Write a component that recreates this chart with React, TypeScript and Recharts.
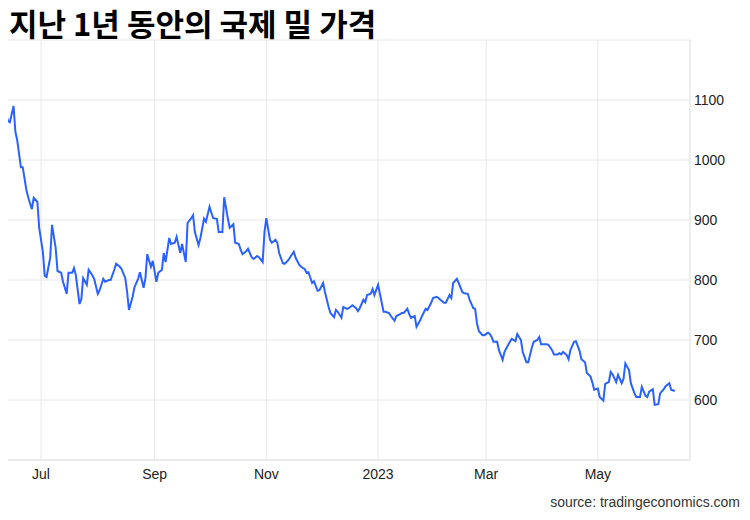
import { LineChart, Line, XAxis, YAxis, CartesianGrid } from 'recharts';

// days counted from 2022-07-01 (trading days)
const days = [
  -22, -20, -18, -17, -15, -14, -13, -11, -10, -8, -7, -5, -4, -2, -1, 1, 2, 3, 5, 6, 8, 9, 11, 12, 14, 15, 17, 18, 19, 21,
  22, 23, 25, 26, 28, 29, 31, 32, 34, 35, 37, 38, 40, 41, 43, 44, 46, 47, 48, 50, 51, 53, 54, 56, 57, 58, 60, 61, 63, 64,
  66, 67, 68, 70, 71, 73, 74, 76, 77, 79, 80, 82, 83, 84, 86, 87, 89, 90, 92, 93, 94, 96, 97, 99, 100, 102, 103, 105, 106, 108,
  109, 110, 112, 113, 115, 116, 118, 119, 121, 122, 123, 125, 126, 128, 129, 130, 132, 133, 135, 136, 138, 139, 141, 142, 144, 145, 146, 148, 149, 151,
  152, 154, 155, 157, 158, 160, 161, 162, 164, 165, 167, 168, 170, 172, 173, 174, 176, 177, 178, 180, 181, 182, 184, 185, 187, 188, 190, 191, 193, 194,
  196, 197, 198, 200, 201, 202, 204, 205, 207, 208, 210, 211, 213, 214, 216, 217, 218, 220, 221, 223, 224, 225, 227, 228, 230, 231, 233, 234, 236, 237,
  238, 239, 241, 242, 244, 245, 246, 247, 249, 250, 252, 253, 254, 256, 257, 259, 260, 262, 263, 265, 266, 268, 269, 271, 272, 273, 275, 276, 277, 279,
  280, 282, 283, 284, 285, 287, 288, 289, 291, 292, 294, 295, 297, 298, 300, 301, 302, 304, 305, 307, 308, 310, 311, 312, 314, 315, 317, 318, 319, 321,
  322, 324, 325, 327, 328, 330, 331, 332, 334, 335, 337, 338, 340, 341, 343, 344, 346,
];

const prices = [
  1085, 1087, 1065, 1063, 1090, 1047, 1033, 988, 988, 950, 938, 918, 937, 930, 887, 847, 807, 805, 837, 892, 853, 815, 812, 797, 777, 812, 812, 820, 808, 760,
  768, 803, 792, 817, 808, 802, 777, 783, 802, 797, 800, 800, 817, 827, 822, 818, 803, 780, 750, 772, 788, 802, 813, 787, 803, 843, 822, 832, 797, 812,
  817, 845, 830, 870, 860, 862, 872, 845, 860, 830, 895, 903, 908, 880, 858, 870, 902, 897, 922, 912, 903, 902, 880, 880, 938, 902, 887, 893, 862, 860,
  850, 843, 848, 852, 838, 835, 840, 838, 830, 880, 903, 867, 862, 867, 862, 845, 828, 827, 833, 838, 847, 837, 825, 822, 818, 812, 813, 795, 798, 782,
  783, 795, 780, 755, 745, 738, 750, 747, 737, 755, 752, 753, 758, 753, 748, 753, 767, 763, 775, 777, 785, 775, 792, 777, 747, 747, 745, 740, 732, 740,
  743, 745, 745, 752, 743, 737, 740, 722, 733, 740, 752, 750, 762, 770, 772, 770, 767, 762, 762, 775, 770, 795, 802, 795, 780, 778, 777, 767, 753, 752,
  728, 715, 708, 708, 712, 710, 705, 697, 697, 683, 667, 680, 686, 697, 702, 698, 710, 700, 680, 663, 663, 688, 697, 700, 705, 693, 693, 693, 692, 683,
  676, 676, 678, 676, 680, 675, 668, 683, 697, 698, 682, 668, 663, 645, 639, 629, 617, 619, 605, 599, 627, 630, 647, 643, 630, 642, 628, 635, 661, 650,
  628, 611, 605, 605, 622, 607, 605, 614, 618, 592, 593, 611, 618, 623, 628, 617, 615,
];

const tickDays = [0, 62, 123, 184, 243, 304];
const tickLabels = ['Jul', 'Sep', 'Nov', '2023', 'Mar', 'May'];
const priceTicks = [500, 600, 700, 800, 900, 1000, 1100, 1200];

const data = days.map((d, i) => ({ day: d, price: prices[i] }));

const FONT = '"Liberation Sans", Arial, sans-serif';

export default function App() {
  return (
    <div style={{ position: 'relative', margin: -8, width: 750, height: 520, background: '#fff', fontFamily: FONT }}>
      <div
        style={{
          position: 'absolute',
          left: 9,
          top: 0,
          fontSize: 31,
          fontWeight: 'bold',
          color: '#000',
          fontFamily: '"Noto Sans CJK KR", sans-serif',
          lineHeight: 'normal',
          whiteSpace: 'nowrap',
        }}
      >
        지난 1년 동안의 국제 밀 가격
      </div>
      <LineChart width={750} height={520} data={data} margin={{ top: 40, right: 0, bottom: 30, left: 0 }}>
        <CartesianGrid stroke="#e8e8e8" />
        <XAxis
          dataKey="day"
          type="number"
          height={30}
          domain={[-22.4, 354.3]}
          allowDataOverflow
          ticks={tickDays}
          tickFormatter={(v: number) => tickLabels[tickDays.indexOf(v)] ?? ''}
          tickLine={false}
          axisLine={{ stroke: '#e0e0e0' }}
          tickSize={0}
          tickMargin={9}
          tick={{ fill: '#222', fontSize: 14, fontFamily: FONT }}
        />
        <YAxis
          orientation="right"
          width={60}
          domain={[500, 1200]}
          ticks={priceTicks}
          tickFormatter={(v: number) => (v === 500 || v === 1200 ? '' : String(v))}
          tickLine={false}
          axisLine={{ stroke: '#e8e8e8' }}
          tickSize={0}
          tickMargin={4}
          tick={{ fill: '#222', fontSize: 14, fontFamily: FONT }}
        />
        <Line
          type="linear"
          dataKey="price"
          stroke="#2962ff"
          strokeWidth={2}
          dot={false}
          isAnimationActive={false}
        />
      </LineChart>
      <div style={{ position: 'absolute', right: 10, top: 494, fontSize: 14, lineHeight: '16px', color: '#333', fontFamily: FONT }}>
        source: tradingeconomics.com
      </div>
    </div>
  );
}
